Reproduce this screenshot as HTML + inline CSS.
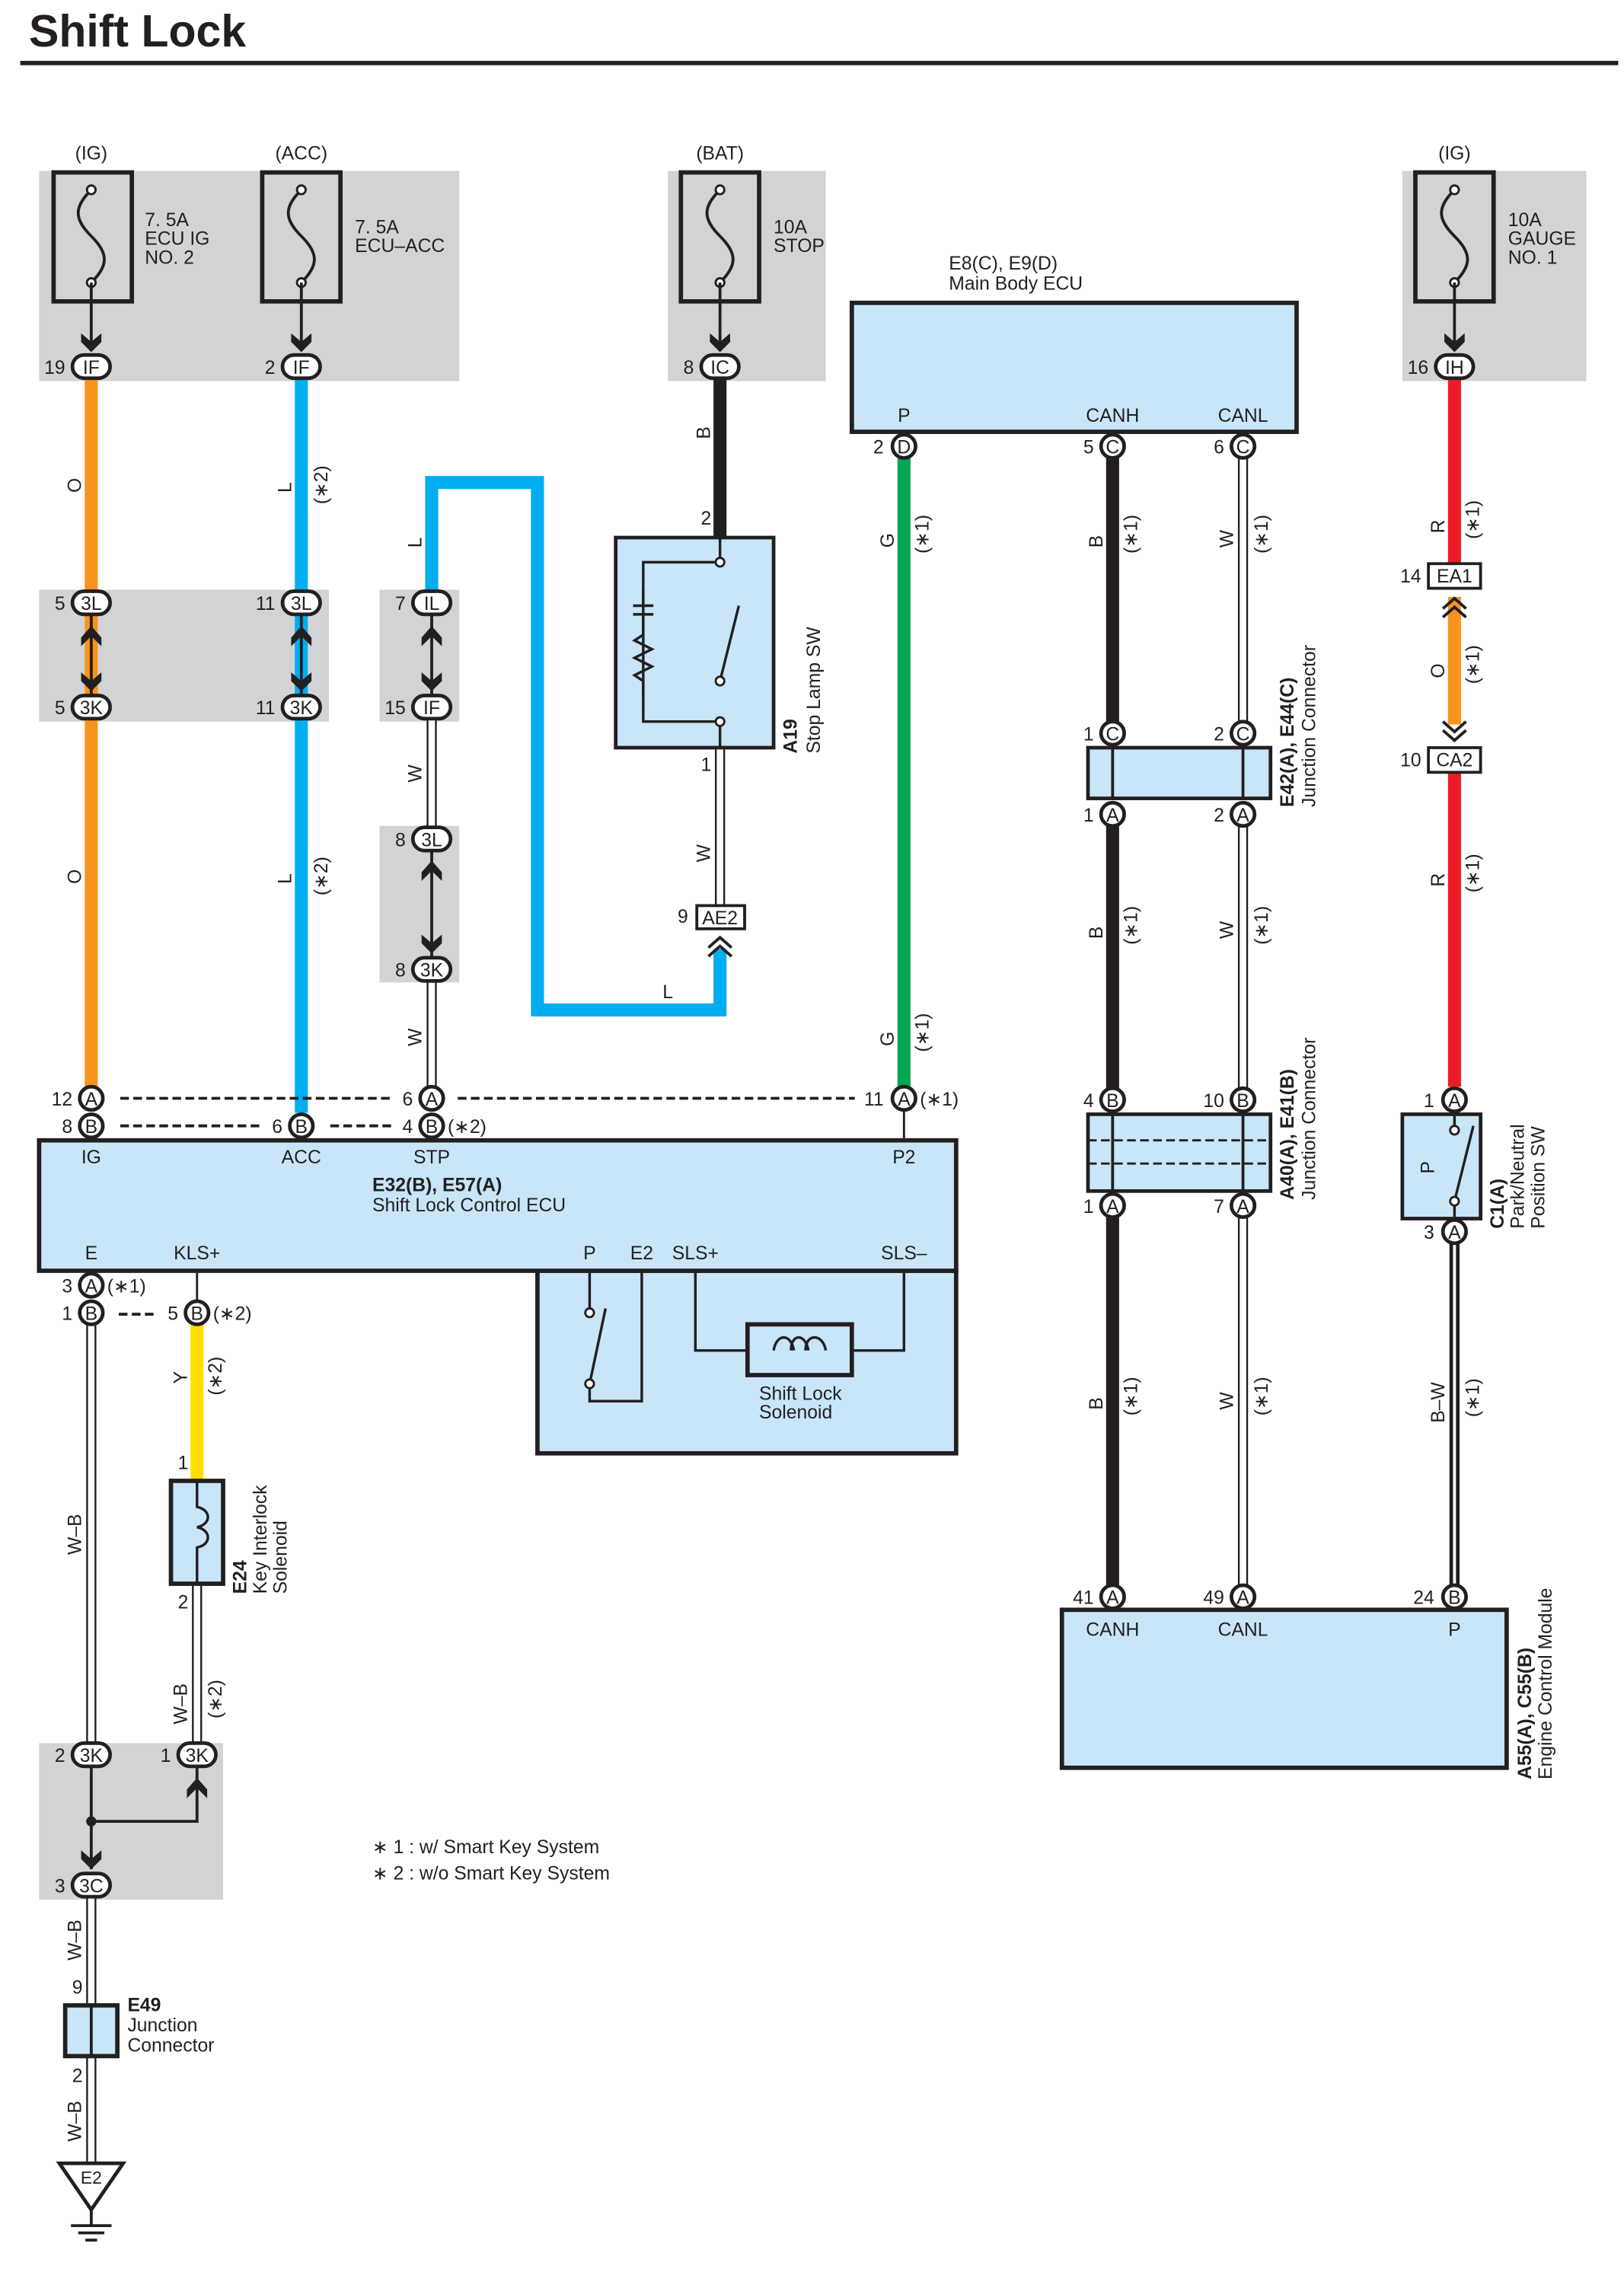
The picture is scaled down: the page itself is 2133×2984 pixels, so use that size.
<!DOCTYPE html>
<html><head><meta charset="utf-8"><style>
html,body{margin:0;padding:0;background:#fff}
svg{display:block}
text{font-family:"Liberation Sans",sans-serif;font-size:13px;fill:#231f20}
.c{text-anchor:middle}
.e{text-anchor:end}
</style></head><body>
<svg width="2133" height="2984" viewBox="0 0 1121 1568" preserveAspectRatio="none" xmlns="http://www.w3.org/2000/svg">
<defs>
<g id="fz"><path d="M0,-32 C-12,-20 -12,-12 0,0 C12,12 12,20 0,32" fill="none" stroke="#231f20" stroke-width="2"/><circle cx="0" cy="-32" r="3" fill="#fff" stroke="#231f20" stroke-width="1.5"/><circle cx="0" cy="32" r="3" fill="#fff" stroke="#231f20" stroke-width="1.5"/></g>
<g id="arD"><path d="M-7,-8 L0,-2 L7,-8 L7,-2 L0,5 L-7,-2Z" fill="#231f20"/></g>
</defs>
<text x="20" y="32" style="font-size:31px;font-weight:bold">Shift Lock</text>
<rect x="14" y="42" width="1103" height="3" fill="#231f20"/>

<g fill="#d1d3d4">
<rect x="27" y="118" width="290" height="145"/>
<rect x="461" y="118" width="109" height="145"/>
<rect x="968" y="118" width="127" height="145"/>
<rect x="27" y="407" width="200" height="91"/>
<rect x="262" y="407" width="55" height="91"/>
<rect x="262" y="570" width="55" height="108"/>
<rect x="27" y="1203" width="127" height="108"/>
</g>

<g fill="none" stroke="#231f20" stroke-width="3">
<rect x="37" y="119" width="54" height="89"/>
<rect x="181" y="119" width="54" height="89"/>
<rect x="470" y="119" width="54" height="89"/>
<rect x="977" y="119" width="54" height="89"/>
</g>
<use href="#fz" x="63" y="163"/><use href="#fz" x="208" y="163"/><use href="#fz" x="497" y="163"/><use href="#fz" x="1004" y="163"/>
<g stroke="#231f20" stroke-width="2">
<line x1="63" y1="195" x2="63" y2="240"/><line x1="208" y1="195" x2="208" y2="240"/><line x1="497" y1="195" x2="497" y2="240"/><line x1="1004" y1="195" x2="1004" y2="240"/>
</g>
<use href="#arD" x="63" y="238"/><use href="#arD" x="208" y="238"/><use href="#arD" x="497" y="238"/><use href="#arD" x="1004" y="238"/>
<text x="63" y="110" class="c">(IG)</text><text x="208" y="110" class="c">(ACC)</text><text x="497" y="110" class="c">(BAT)</text><text x="1004" y="110" class="c">(IG)</text>
<text x="100" y="156">7. 5A</text><text x="100" y="169">ECU IG</text><text x="100" y="182">NO. 2</text>
<text x="245" y="161">7. 5A</text><text x="245" y="174">ECU–ACC</text>
<text x="534" y="161">10A</text><text x="534" y="174">STOP</text>
<text x="1041" y="156">10A</text><text x="1041" y="169">GAUGE</text><text x="1041" y="182">NO. 1</text>

<g stroke-width="9" fill="none">
<line x1="63" y1="262" x2="63" y2="750" stroke="#f7941d"/>
<line x1="208" y1="262" x2="208" y2="768" stroke="#00aeef"/>
<line x1="497" y1="262" x2="497" y2="370" stroke="#231f20"/>
<line x1="1004" y1="262" x2="1004" y2="390" stroke="#ed1c24"/>
<line x1="1004" y1="412" x2="1004" y2="500" stroke="#f7941d"/>
<line x1="1004" y1="533" x2="1004" y2="750" stroke="#ed1c24"/>
<line x1="624" y1="316" x2="624" y2="750" stroke="#00a651"/>
<line x1="768" y1="316" x2="768" y2="505" stroke="#231f20"/>
<line x1="768" y1="570" x2="768" y2="752" stroke="#231f20"/>
<line x1="768" y1="840" x2="768" y2="1095" stroke="#231f20"/>
<path d="M298,407 V333 H371 V697 H497 V655" stroke="#00aeef"/>
<line x1="136" y1="913" x2="136" y2="1022" stroke="#ffde00"/>
</g>
<g fill="none">
<g stroke="#231f20" stroke-width="7">
<line x1="858" y1="316" x2="858" y2="505"/><line x1="858" y1="570" x2="858" y2="752"/><line x1="858" y1="840" x2="858" y2="1095"/>
<line x1="298" y1="496" x2="298" y2="572"/><line x1="298" y1="676" x2="298" y2="752"/>
<line x1="497" y1="516" x2="497" y2="625"/>
<line x1="63" y1="913" x2="63" y2="1203"/><line x1="136" y1="1093" x2="136" y2="1203"/>
<line x1="63" y1="1310" x2="63" y2="1384"/><line x1="63" y1="1419" x2="63" y2="1492"/>
<line x1="1004" y1="840" x2="1004" y2="1095"/>
</g>
<g stroke="#fff" stroke-width="4.5">
<line x1="858" y1="316" x2="858" y2="505"/><line x1="858" y1="570" x2="858" y2="752"/><line x1="858" y1="840" x2="858" y2="1095"/>
<line x1="298" y1="496" x2="298" y2="572"/><line x1="298" y1="676" x2="298" y2="752"/>
<line x1="497" y1="516" x2="497" y2="625"/>
<line x1="63" y1="913" x2="63" y2="1203"/><line x1="136" y1="1093" x2="136" y2="1203"/>
<line x1="63" y1="1310" x2="63" y2="1384"/><line x1="63" y1="1419" x2="63" y2="1492"/>
</g>
<line x1="1004" y1="840" x2="1004" y2="1095" stroke="#fff" stroke-width="2"/>
</g>

<g stroke="#231f20" stroke-width="2">
<line x1="63" y1="425" x2="63" y2="480"/><line x1="208" y1="425" x2="208" y2="480"/><line x1="298" y1="425" x2="298" y2="480"/><line x1="298" y1="588" x2="298" y2="660"/>
</g>
<g fill="#231f20">
<path d="M56,440 L63,432 L70,440 L70,446 L63,439 L56,446Z"/><path d="M56,464 L63,470 L70,464 L70,470 L63,477 L56,470Z"/>
<path d="M201,440 L208,432 L215,440 L215,446 L208,439 L201,446Z"/><path d="M201,464 L208,470 L215,464 L215,470 L208,477 L201,470Z"/>
<path d="M291,440 L298,432 L305,440 L305,446 L298,439 L291,446Z"/><path d="M291,464 L298,470 L305,464 L305,470 L298,477 L291,470Z"/>
<path d="M291,602 L298,594 L305,602 L305,608 L298,601 L291,608Z"/><path d="M291,645 L298,651 L305,645 L305,651 L298,658 L291,651Z"/>
</g>
<g fill="none" stroke="#231f20" stroke-width="2">
<path d="M489,654 L497,647 L505,654"/><path d="M489,660 L497,653 L505,660"/>
<path d="M996,420 L1004,413 L1012,420"/><path d="M996,426 L1004,419 L1012,426"/>
<path d="M996,498 L1004,505 L1012,498"/><path d="M996,504 L1004,511 L1012,504"/>
</g>
<g fill="#fff" stroke="#231f20" stroke-width="2">
<rect x="481" y="625" width="33" height="16"/>
<rect x="986" y="389" width="36" height="17"/>
<rect x="986" y="516" width="36" height="17"/>
</g>
<text x="497" y="638" class="c">AE2</text><text x="1004" y="402" class="c">EA1</text><text x="1004" y="529" class="c">CA2</text>
<text x="475" y="637" class="e">9</text><text x="981" y="402" class="e">14</text><text x="981" y="529" class="e">10</text>

<rect x="425" y="371" width="109" height="145" fill="#c8e6f8" stroke="#231f20" stroke-width="2.5"/>
<g fill="none" stroke="#231f20" stroke-width="1.8">
<path d="M497,371 V388 M497,498 V516 M497,388 H444 V498 H497 M497,470 L510,418"/>
<path d="M437,418 H451 M437,424 H451 M444,405 V418 M444,424 V438 L438,442 L450,448 L438,454 L450,460 L438,466 L444,470 V480"/>
</g>
<g fill="#fff" stroke="#231f20" stroke-width="1.5"><circle cx="497" cy="388" r="3"/><circle cx="497" cy="470" r="3"/><circle cx="497" cy="498" r="3"/></g>
<text x="491" y="362" class="e">2</text><text x="491" y="532" class="e">1</text>
<text transform="translate(550,520) rotate(-90)" style="font-weight:bold">A19</text>
<text transform="translate(566,520) rotate(-90)">Stop Lamp SW</text>

<rect x="588" y="209" width="307" height="89" fill="#c8e6f8" stroke="#231f20" stroke-width="3"/>
<text x="655" y="186">E8(C), E9(D)</text><text x="655" y="200">Main Body ECU</text>
<text x="624" y="291" class="c">P</text><text x="768" y="291" class="c">CANH</text><text x="858" y="291" class="c">CANL</text>

<rect x="751" y="516" width="126" height="35" fill="#c8e6f8" stroke="#231f20" stroke-width="2.5"/>
<line x1="768" y1="516" x2="768" y2="551" stroke="#231f20" stroke-width="2"/><line x1="858" y1="516" x2="858" y2="551" stroke="#231f20" stroke-width="2"/>
<text transform="translate(893,557) rotate(-90)" style="font-weight:bold">E42(A), E44(C)</text>
<text transform="translate(908,557) rotate(-90)">Junction Connector</text>
<rect x="751" y="769" width="126" height="53" fill="#c8e6f8" stroke="#231f20" stroke-width="2.5"/>
<g stroke="#231f20" stroke-width="1.5" stroke-dasharray="6,3"><line x1="751" y1="787" x2="877" y2="787"/><line x1="751" y1="803" x2="877" y2="803"/></g>
<line x1="768" y1="769" x2="768" y2="822" stroke="#231f20" stroke-width="2"/><line x1="858" y1="769" x2="858" y2="822" stroke="#231f20" stroke-width="2"/>
<text transform="translate(893,828) rotate(-90)" style="font-weight:bold">A40(A), E41(B)</text>
<text transform="translate(908,828) rotate(-90)">Junction Connector</text>

<rect x="968" y="769" width="54" height="72" fill="#c8e6f8" stroke="#231f20" stroke-width="2.5"/>
<g fill="none" stroke="#231f20" stroke-width="1.8"><path d="M1004,769 V780 M1004,829 V841 M1004,829 L1017,777"/></g>
<g fill="#fff" stroke="#231f20" stroke-width="1.5"><circle cx="1004" cy="780" r="3"/><circle cx="1004" cy="829" r="3"/></g>
<text transform="translate(990,810) rotate(-90)">P</text>
<text transform="translate(1038,848) rotate(-90)" style="font-weight:bold">C1(A)</text>
<text transform="translate(1052,848) rotate(-90)">Park/Neutral</text>
<text transform="translate(1066,848) rotate(-90)">Position SW</text>

<rect x="733" y="1111" width="307" height="109" fill="#c8e6f8" stroke="#231f20" stroke-width="3"/>
<text x="768" y="1129" class="c">CANH</text><text x="858" y="1129" class="c">CANL</text><text x="1004" y="1129" class="c">P</text>
<text transform="translate(1057,1228) rotate(-90)" style="font-weight:bold">A55(A), C55(B)</text>
<text transform="translate(1071,1228) rotate(-90)">Engine Control Module</text>

<rect x="371" y="877" width="289" height="126" fill="#c8e6f8" stroke="#231f20" stroke-width="3"/>
<rect x="27" y="787" width="633" height="90" fill="#c8e6f8" stroke="#231f20" stroke-width="3"/>
<line x1="624" y1="766" x2="624" y2="787" stroke="#231f20" stroke-width="1.5"/>
<text x="63" y="803" class="c">IG</text><text x="208" y="803" class="c">ACC</text><text x="298" y="803" class="c">STP</text><text x="624" y="803" class="c">P2</text>
<text x="257" y="822" style="font-weight:bold">E32(B), E57(A)</text><text x="257" y="836">Shift Lock Control ECU</text>
<text x="63" y="869" class="c">E</text><text x="136" y="869" class="c">KLS+</text><text x="407" y="869" class="c">P</text><text x="443" y="869" class="c">E2</text><text x="480" y="869" class="c">SLS+</text><text x="624" y="869" class="c">SLS–</text>
<g fill="none" stroke="#231f20" stroke-width="1.8">
<path d="M407,877 V906 M407,955 V967 H443 V877 M407,955 L418,903"/>
<path d="M480,877 V932 H516 M588,932 H624 V877"/>
<rect x="516" y="914" width="72" height="35" stroke-width="3"/>
<path d="M534,932 C536,920 546,920 548,932 M546,932 C546,920 556,920 558,932 M556,932 C556,920 568,920 570,932"/>
</g>
<g fill="#fff" stroke="#231f20" stroke-width="1.5"><circle cx="407" cy="906" r="3"/><circle cx="407" cy="955" r="3"/></g>
<text x="524" y="966">Shift Lock</text><text x="524" y="979">Solenoid</text>
<line x1="136" y1="877" x2="136" y2="898" stroke="#231f20" stroke-width="1.5"/>

<g stroke="#231f20" stroke-width="2" stroke-dasharray="6,3">
<line x1="83" y1="758" x2="272" y2="758"/><line x1="316" y1="758" x2="590" y2="758"/>
<line x1="83" y1="777" x2="182" y2="777"/><line x1="228" y1="777" x2="272" y2="777"/>
<line x1="82" y1="907" x2="107" y2="907"/>
</g>

<rect x="118" y="1022" width="36" height="71" fill="#c8e6f8" stroke="#231f20" stroke-width="3"/>
<path d="M136,1022 V1040 C146,1042 146,1052 136,1054 C146,1056 146,1066 136,1068 V1093" fill="none" stroke="#231f20" stroke-width="1.8"/>
<text x="130" y="1014" class="e">1</text><text x="130" y="1110" class="e">2</text>
<text transform="translate(170,1100) rotate(-90)" style="font-weight:bold">E24</text>
<text transform="translate(184,1100) rotate(-90)">Key Interlock</text>
<text transform="translate(198,1100) rotate(-90)">Solenoid</text>

<g stroke="#231f20" stroke-width="2" fill="none">
<path d="M63,1220 V1290 M136,1220 V1257 H63"/>
</g>
<circle cx="63" cy="1257" r="3.5" fill="#231f20"/>
<path d="M56,1277 L63,1283 L70,1277 L70,1283 L63,1290 L56,1283Z" fill="#231f20"/>
<path d="M129,1235 L136,1227 L143,1235 L143,1241 L136,1234 L129,1241Z" fill="#231f20"/>
<rect x="45" y="1384" width="36" height="35" fill="#c8e6f8" stroke="#231f20" stroke-width="3"/>
<line x1="63" y1="1384" x2="63" y2="1419" stroke="#231f20" stroke-width="2"/>
<text x="57" y="1376" class="e">9</text><text x="57" y="1437" class="e">2</text>
<text x="88" y="1388" style="font-weight:bold">E49</text><text x="88" y="1402">Junction</text><text x="88" y="1416">Connector</text>
<path d="M41,1493 H85 L63,1525Z" fill="#fff" stroke="#231f20" stroke-width="2.5"/>
<text x="63" y="1507" class="c" style="font-size:12px">E2</text>
<g stroke="#231f20" stroke-width="2"><line x1="63" y1="1525" x2="63" y2="1536"/><line x1="49" y1="1536" x2="77" y2="1536"/><line x1="54" y1="1541" x2="72" y2="1541"/><line x1="59" y1="1546" x2="67" y2="1546"/></g>

<text x="257" y="1279">∗ 1 : w/ Smart Key System</text>
<text x="257" y="1297">∗ 2 : w/o Smart Key System</text>

<g fill="#fff" stroke="#231f20" stroke-width="2.5">
<rect x="50" y="245" width="26" height="16" rx="8"/><rect x="195" y="245" width="26" height="16" rx="8"/><rect x="484" y="245" width="26" height="16" rx="8"/><rect x="991" y="245" width="26" height="16" rx="8"/>
<rect x="50" y="408" width="26" height="16" rx="8"/><rect x="195" y="408" width="26" height="16" rx="8"/><rect x="285" y="408" width="26" height="16" rx="8"/>
<rect x="50" y="480" width="26" height="16" rx="8"/><rect x="195" y="480" width="26" height="16" rx="8"/><rect x="285" y="480" width="26" height="16" rx="8"/>
<rect x="285" y="571" width="26" height="16" rx="8"/><rect x="285" y="661" width="26" height="16" rx="8"/>
<rect x="50" y="1203" width="26" height="16" rx="8"/><rect x="123" y="1203" width="26" height="16" rx="8"/><rect x="50" y="1293" width="26" height="16" rx="8"/>
</g>
<g>
<text x="63" y="258" class="c">IF</text><text x="208" y="258" class="c">IF</text><text x="497" y="258" class="c">IC</text><text x="1004" y="258" class="c">IH</text>
<text x="63" y="421" class="c">3L</text><text x="208" y="421" class="c">3L</text><text x="298" y="421" class="c">IL</text>
<text x="63" y="493" class="c">3K</text><text x="208" y="493" class="c">3K</text><text x="298" y="493" class="c">IF</text>
<text x="298" y="584" class="c">3L</text><text x="298" y="674" class="c">3K</text>
<text x="63" y="1216" class="c">3K</text><text x="136" y="1216" class="c">3K</text><text x="63" y="1306" class="c">3C</text>
</g>
<text x="45" y="258" class="e">19</text><text x="190" y="258" class="e">2</text><text x="479" y="258" class="e">8</text><text x="986" y="258" class="e">16</text>
<text x="45" y="421" class="e">5</text><text x="190" y="421" class="e">11</text><text x="280" y="421" class="e">7</text>
<text x="45" y="493" class="e">5</text><text x="190" y="493" class="e">11</text><text x="280" y="493" class="e">15</text>
<text x="280" y="584" class="e">8</text><text x="280" y="674" class="e">8</text>
<text x="45" y="1216" class="e">2</text><text x="118" y="1216" class="e">1</text><text x="45" y="1306" class="e">3</text>

<g fill="#fff" stroke="#231f20" stroke-width="2.5">
<circle cx="624" cy="308" r="8"/><circle cx="768" cy="308" r="8"/><circle cx="858" cy="308" r="8"/>
<circle cx="768" cy="506" r="8"/><circle cx="858" cy="506" r="8"/><circle cx="768" cy="562" r="8"/><circle cx="858" cy="562" r="8"/>
<circle cx="768" cy="759" r="8"/><circle cx="858" cy="759" r="8"/><circle cx="768" cy="832" r="8"/><circle cx="858" cy="832" r="8"/>
<circle cx="1004" cy="759" r="8"/><circle cx="1004" cy="850" r="8"/>
<circle cx="768" cy="1102" r="8"/><circle cx="858" cy="1102" r="8"/><circle cx="1004" cy="1102" r="8"/>
<circle cx="63" cy="758" r="8"/><circle cx="63" cy="777" r="8"/><circle cx="208" cy="777" r="8"/><circle cx="298" cy="758" r="8"/><circle cx="298" cy="777" r="8"/><circle cx="624" cy="758" r="8"/>
<circle cx="63" cy="887" r="8"/><circle cx="63" cy="906" r="8"/><circle cx="136" cy="906" r="8"/>
</g>
<g style="font-size:12px">
<text x="624" y="313" class="c">D</text><text x="768" y="313" class="c">C</text><text x="858" y="313" class="c">C</text>
<text x="768" y="511" class="c">C</text><text x="858" y="511" class="c">C</text><text x="768" y="567" class="c">A</text><text x="858" y="567" class="c">A</text>
<text x="768" y="764" class="c">B</text><text x="858" y="764" class="c">B</text><text x="768" y="837" class="c">A</text><text x="858" y="837" class="c">A</text>
<text x="1004" y="764" class="c">A</text><text x="1004" y="855" class="c">A</text>
<text x="768" y="1107" class="c">A</text><text x="858" y="1107" class="c">A</text><text x="1004" y="1107" class="c">B</text>
<text x="63" y="763" class="c">A</text><text x="63" y="782" class="c">B</text><text x="208" y="782" class="c">B</text><text x="298" y="763" class="c">A</text><text x="298" y="782" class="c">B</text><text x="624" y="763" class="c">A</text>
<text x="63" y="892" class="c">A</text><text x="63" y="911" class="c">B</text><text x="136" y="911" class="c">B</text>
</g>
<text x="610" y="313" class="e">2</text><text x="755" y="313" class="e">5</text><text x="845" y="313" class="e">6</text>
<text x="755" y="511" class="e">1</text><text x="845" y="511" class="e">2</text><text x="755" y="567" class="e">1</text><text x="845" y="567" class="e">2</text>
<text x="755" y="764" class="e">4</text><text x="845" y="764" class="e">10</text><text x="755" y="837" class="e">1</text><text x="845" y="837" class="e">7</text>
<text x="990" y="764" class="e">1</text><text x="990" y="855" class="e">3</text>
<text x="755" y="1107" class="e">41</text><text x="845" y="1107" class="e">49</text><text x="990" y="1107" class="e">24</text>
<text x="50" y="763" class="e">12</text><text x="50" y="782" class="e">8</text><text x="195" y="782" class="e">6</text><text x="285" y="763" class="e">6</text><text x="285" y="782" class="e">4</text><text x="610" y="763" class="e">11</text>
<text x="50" y="892" class="e">3</text><text x="50" y="911" class="e">1</text><text x="123" y="911" class="e">5</text>
<text x="309" y="782">(∗2)</text><text x="635" y="763">(∗1)</text><text x="74" y="892">(∗1)</text><text x="147" y="911">(∗2)</text>

<g>
<text transform="translate(56,340) rotate(-90)">O</text>
<text transform="translate(56,610) rotate(-90)">O</text>
<text transform="translate(201,340) rotate(-90)">L</text><text transform="translate(226,348) rotate(-90)">(∗2)</text>
<text transform="translate(201,610) rotate(-90)">L</text><text transform="translate(226,618) rotate(-90)">(∗2)</text>
<text transform="translate(291,378) rotate(-90)">L</text>
<text transform="translate(291,540) rotate(-90)">W</text>
<text transform="translate(291,722) rotate(-90)">W</text>
<text transform="translate(490,303) rotate(-90)">B</text>
<text transform="translate(490,595) rotate(-90)">W</text>
<text x="461" y="689" class="c">L</text>
<text transform="translate(617,378) rotate(-90)">G</text><text transform="translate(641,382) rotate(-90)">(∗1)</text>
<text transform="translate(617,722) rotate(-90)">G</text><text transform="translate(641,726) rotate(-90)">(∗1)</text>
<text transform="translate(761,378) rotate(-90)">B</text><text transform="translate(785,382) rotate(-90)">(∗1)</text>
<text transform="translate(851,378) rotate(-90)">W</text><text transform="translate(875,382) rotate(-90)">(∗1)</text>
<text transform="translate(761,648) rotate(-90)">B</text><text transform="translate(785,652) rotate(-90)">(∗1)</text>
<text transform="translate(851,648) rotate(-90)">W</text><text transform="translate(875,652) rotate(-90)">(∗1)</text>
<text transform="translate(761,973) rotate(-90)">B</text><text transform="translate(785,977) rotate(-90)">(∗1)</text>
<text transform="translate(851,973) rotate(-90)">W</text><text transform="translate(875,977) rotate(-90)">(∗1)</text>
<text transform="translate(997,368) rotate(-90)">R</text><text transform="translate(1021,372) rotate(-90)">(∗1)</text>
<text transform="translate(997,468) rotate(-90)">O</text><text transform="translate(1021,472) rotate(-90)">(∗1)</text>
<text transform="translate(997,612) rotate(-90)">R</text><text transform="translate(1021,616) rotate(-90)">(∗1)</text>
<text transform="translate(997,982) rotate(-90)">B–W</text><text transform="translate(1021,978) rotate(-90)">(∗1)</text>
<text transform="translate(129,955) rotate(-90)">Y</text><text transform="translate(153,963) rotate(-90)">(∗2)</text>
<text transform="translate(56,1073) rotate(-90)">W–B</text>
<text transform="translate(129,1190) rotate(-90)">W–B</text><text transform="translate(153,1186) rotate(-90)">(∗2)</text>
<text transform="translate(56,1353) rotate(-90)">W–B</text>
<text transform="translate(56,1478) rotate(-90)">W–B</text>
</g>
</svg>
</body></html>
